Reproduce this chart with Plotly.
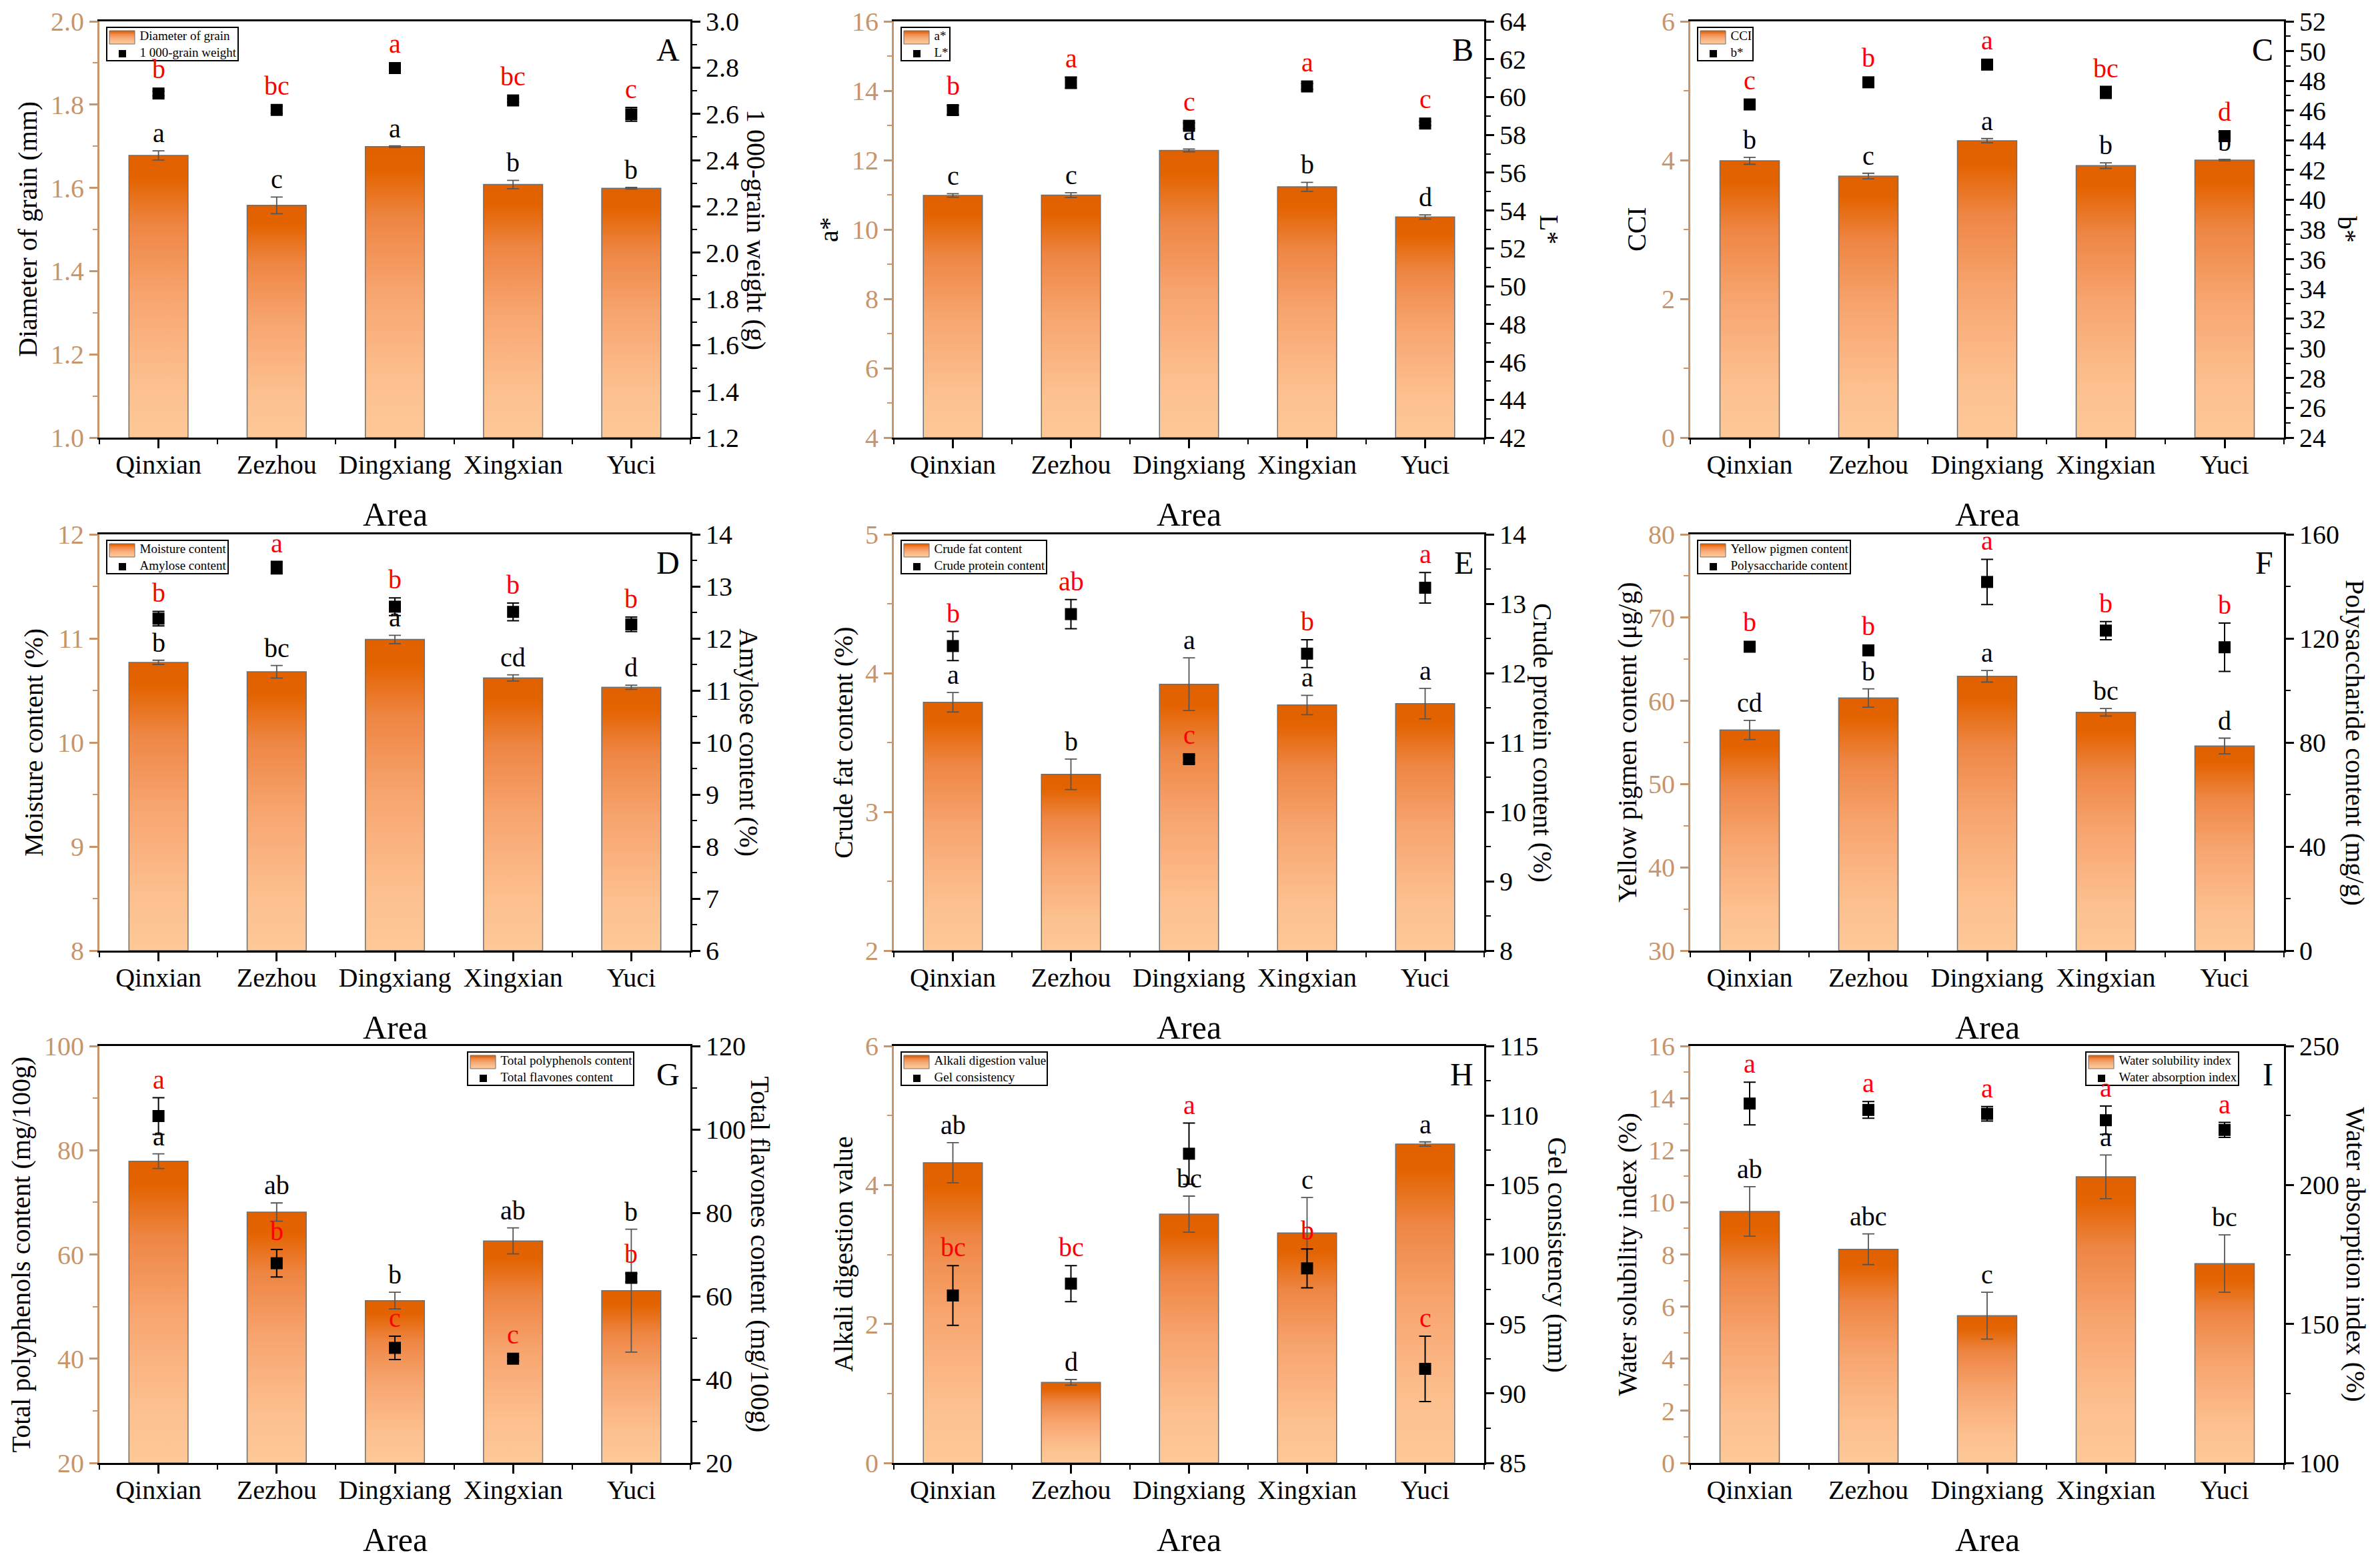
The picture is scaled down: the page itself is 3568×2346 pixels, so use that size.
import plotly.graph_objects as go

AREAS = ['Qinxian', 'Zezhou', 'Dingxiang', 'Xingxian', 'Yuci']

# A  diameter of grain / 1000-grain weight
grain_diameter = [1.678, 1.558, 1.699, 1.608, 1.599]
grain_diameter_sd = [0.011, 0.02, 0.002, 0.01, 0.002]
grain_diameter_sig = ['a', 'c', 'a', 'b', 'b']
grain_weight = [2.688, 2.617, 2.798, 2.658, 2.598]
grain_weight_sd = [0.01, 0.015, 0.008, 0.008, 0.03]
grain_weight_sig = ['b', 'bc', 'a', 'bc', 'c']

# B  a* / L*
a_star = [10.98, 10.99, 12.28, 11.23, 10.36]
a_star_sd = [0.05, 0.07, 0.04, 0.13, 0.06]
a_star_sig = ['c', 'c', 'a', 'b', 'd']
l_star = [59.31, 60.76, 58.48, 60.56, 58.6]
l_star_sd = [0.25, 0.3, 0.15, 0.15, 0.1]
l_star_sig = ['b', 'a', 'c', 'a', 'c']

# C  CCI / b*
cci = [3.99, 3.77, 4.28, 3.92, 4.0]
cci_sd = [0.05, 0.04, 0.03, 0.04, 0.01]
cci_sig = ['b', 'c', 'a', 'b', 'b']
b_star = [46.41, 47.9, 49.09, 47.22, 44.28]
b_star_sd = [0.1, 0.3, 0.1, 0.4, 0.2]
b_star_sig = ['c', 'b', 'a', 'bc', 'd']

# D  moisture / amylose
moisture = [10.77, 10.68, 10.99, 10.62, 10.53]
moisture_sd = [0.02, 0.06, 0.04, 0.03, 0.02]
moisture_sig = ['b', 'bc', 'a', 'cd', 'd']
amylose = [12.38, 13.36, 12.61, 12.51, 12.27]
amylose_sd = [0.14, 0.12, 0.17, 0.17, 0.14]
amylose_sig = ['b', 'a', 'b', 'b', 'b']

# E  crude fat / crude protein
crude_fat = [3.79, 3.27, 3.92, 3.77, 3.78]
crude_fat_sd = [0.07, 0.11, 0.19, 0.07, 0.11]
crude_fat_sig = ['a', 'b', 'a', 'a', 'a']
crude_protein = [12.39, 12.85, 10.76, 12.28, 13.23]
crude_protein_sd = [0.21, 0.21, 0.055, 0.2, 0.22]
crude_protein_sig = ['b', 'ab', 'c', 'b', 'a']

# F  yellow pigment / polysaccharide
yellow_pigment = [56.5, 60.34, 62.95, 58.62, 54.57]
yellow_pigment_sd = [1.15, 1.1, 0.7, 0.45, 0.95]
yellow_pigment_sig = ['cd', 'b', 'a', 'bc', 'd']
polysaccharide = [116.8, 115.4, 141.7, 123.0, 116.6]
polysaccharide_sd = [1.0, 1.0, 8.7, 3.5, 9.3]
polysaccharide_sig = ['b', 'b', 'a', 'b', 'b']

# G  total polyphenols / total flavones
polyphenols = [77.9, 68.14, 51.15, 62.6, 53.06]
polyphenols_sd = [1.4, 1.75, 1.6, 2.5, 11.8]
polyphenols_sig = ['a', 'ab', 'b', 'ab', 'b']
flavones = [103.2, 67.9, 47.6, 45.0, 64.4]
flavones_sd = [4.4, 3.3, 2.8, 0.5, 1.0]
flavones_sig = ['a', 'b', 'c', 'c', 'b']

# H  alkali digestion / gel consistency
alkali = [4.32, 1.16, 3.58, 3.31, 4.59]
alkali_sd = [0.29, 0.04, 0.26, 0.51, 0.03]
alkali_sig = ['ab', 'd', 'bc', 'c', 'a']
gel = [97.05, 97.9, 107.25, 99.0, 91.77]
gel_sd = [2.15, 1.3, 2.2, 1.4, 2.35]
gel_sig = ['bc', 'bc', 'a', 'b', 'c']

# I  water solubility / water absorption
solubility = [9.65, 8.2, 5.65, 10.98, 7.65]
solubility_sd = [0.95, 0.59, 0.9, 0.84, 1.1]
solubility_sig = ['ab', 'abc', 'c', 'a', 'bc']
absorption = [229.3, 227.0, 225.6, 223.3, 219.8]
absorption_sd = [7.7, 3.0, 2.6, 5.1, 2.7]
absorption_sig = ['a', 'a', 'a', 'a', 'a']

PANELS = [
    dict(letter='A', bar=grain_diameter, bar_sd=grain_diameter_sd, bar_sig=grain_diameter_sig,
         pt=grain_weight, pt_sd=grain_weight_sd, pt_sig=grain_weight_sig,
         bar_name='Diameter of grain', pt_name='1 000-grain weight',
         ltitle='Diameter of grain (mm)', rtitle='1 000-grain weight (g)',
         lrange=[1.0, 2.0], ldt=0.2, lminor=0.1, rrange=[1.2, 3.0], rdt=0.2, rminor=0.1,
         lfmt='.1f', rfmt='.1f', loff=107, roff=98, leg_dx=10),
    dict(letter='B', bar=a_star, bar_sd=a_star_sd, bar_sig=a_star_sig,
         pt=l_star, pt_sd=l_star_sd, pt_sig=l_star_sig,
         bar_name='a*', pt_name='L*', ltitle='a*', rtitle='L*',
         lrange=[4, 16], ldt=2, lminor=1, rrange=[42, 64], rdt=2, rminor=1,
         lfmt='d', rfmt='d', loff=97, roff=97, leg_dx=10),
    dict(letter='C', bar=cci, bar_sd=cci_sd, bar_sig=cci_sig,
         pt=b_star, pt_sd=b_star_sd, pt_sig=b_star_sig,
         bar_name='CCI', pt_name='b*', ltitle='CCI', rtitle='b*',
         lrange=[0, 6], ldt=2, lminor=1, rrange=[24, 52], rdt=2, rminor=1,
         lfmt='d', rfmt='d', loff=80, roff=94, leg_dx=10),
    dict(letter='D', bar=moisture, bar_sd=moisture_sd, bar_sig=moisture_sig,
         pt=amylose, pt_sd=amylose_sd, pt_sig=amylose_sig,
         bar_name='Moisture content', pt_name='Amylose content',
         ltitle='Moisture content (%)', rtitle='Amylose content (%)',
         lrange=[8, 12], ldt=1, lminor=0.5, rrange=[6, 14], rdt=1, rminor=0.5,
         lfmt='d', rfmt='d', loff=99, roff=88, leg_dx=10),
    dict(letter='E', bar=crude_fat, bar_sd=crude_fat_sd, bar_sig=crude_fat_sig,
         pt=crude_protein, pt_sd=crude_protein_sd, pt_sig=crude_protein_sig,
         bar_name='Crude fat content', pt_name='Crude protein content',
         ltitle='Crude fat content (%)', rtitle='Crude protein content (%)',
         lrange=[2, 5], ldt=1, lminor=0.5, rrange=[8, 14], rdt=1, rminor=0.5,
         lfmt='d', rfmt='d', loff=76, roff=88, leg_dx=10),
    dict(letter='F', bar=yellow_pigment, bar_sd=yellow_pigment_sd, bar_sig=yellow_pigment_sig,
         pt=polysaccharide, pt_sd=polysaccharide_sd, pt_sig=polysaccharide_sig,
         bar_name='Yellow pigmen content', pt_name='Polysaccharide content',
         ltitle='Yellow pigmen content (μg/g)', rtitle='Polysaccharide content (mg/g)',
         lrange=[30, 80], ldt=10, lminor=5, rrange=[0, 160], rdt=40, rminor=20,
         lfmt='d', rfmt='d', loff=95, roff=107, leg_dx=10),
    dict(letter='G', bar=polyphenols, bar_sd=polyphenols_sd, bar_sig=polyphenols_sig,
         pt=flavones, pt_sd=flavones_sd, pt_sig=flavones_sig,
         bar_name='Total polyphenols content', pt_name='Total flavones content',
         ltitle='Total polyphenols content (mg/100g)', rtitle='Total flavones content (mg/100g)',
         lrange=[20, 100], ldt=20, lminor=10, rrange=[20, 120], rdt=20, rminor=10,
         lfmt='d', rfmt='d', loff=118, roff=104, leg_dx=551),
    dict(letter='H', bar=alkali, bar_sd=alkali_sd, bar_sig=alkali_sig,
         pt=gel, pt_sd=gel_sd, pt_sig=gel_sig,
         bar_name='Alkali digestion value', pt_name='Gel consistency',
         ltitle='Alkali digestion value', rtitle='Gel consistency (mm)',
         lrange=[0, 6], ldt=2, lminor=1, rrange=[85, 115], rdt=5, rminor=2.5,
         lfmt='d', rfmt='d', loff=76, roff=109, leg_dx=10),
    dict(letter='I', bar=solubility, bar_sd=solubility_sd, bar_sig=solubility_sig,
         pt=absorption, pt_sd=absorption_sd, pt_sig=absorption_sig,
         bar_name='Water solubility index', pt_name='Water absorption index',
         ltitle='Water solubility index (%)', rtitle='Water absorption index (%)',
         lrange=[0, 16], ldt=2, lminor=1, rrange=[100, 250], rdt=50, rminor=25,
         lfmt='d', rfmt='d', loff=95, roff=107, leg_dx=592),
]

W, H = 3568, 2346
PAGE = 8  # default body margin of the html page
COL_X = [(149, 1035), (1340, 2225), (2534, 3424)]
ROW_Y = [(32, 656), (801, 1425), (1568, 2193)]

TAN = '#c8946a'
FONT = 'Liberation Serif, Times New Roman, serif'
BAR_SCALE = [[0.0, '#fdc897'], [0.18, '#fdc190'], [0.5, '#f7a56f'],
             [0.75, '#ee8644'], [0.92, '#e36300'], [1.0, '#e16100']]
HALF_W = 0.25
MARKER = 18


def name(prefix, n):
    return prefix if n == 1 else f'{prefix}{n}'


def px(x):
    return x / W


def py(y):
    return 1 - y / H


def scale_color(t):
    # colour of BAR_SCALE at position t (for the legend swatch)
    for (t0, c0), (t1, c1) in zip(BAR_SCALE[:-1], BAR_SCALE[1:]):
        if t0 <= t <= t1:
            f = (t - t0) / (t1 - t0) if t1 > t0 else 0
            a = [int(c0[i:i + 2], 16) for i in (1, 3, 5)]
            b = [int(c1[i:i + 2], 16) for i in (1, 3, 5)]
            return 'rgb({},{},{})'.format(*[round(u + (v - u) * f) for u, v in zip(a, b)])
    return BAR_SCALE[-1][1]


fig = go.Figure()
layout = {}
annotations = []
shapes = []

for k, p in enumerate(PANELS):
    row, col = divmod(k, 3)
    x0, x1 = COL_X[col]
    ytop, ybot = ROW_Y[row]
    x0, x1, ytop, ybot = x0 - PAGE, x1 - PAGE, ytop - PAGE, ybot - PAGE
    xdom = [px(x0), px(x1)]
    ydom = [py(ybot), py(ytop)]
    xi = k + 1
    yl, yr = 2 * k + 1, 2 * k + 2
    xref, ylref, yrref = name('x', xi), name('y', yl), name('y', yr)
    base = p['lrange'][0]
    r_ppu = (ybot - ytop) / (p['rrange'][1] - p['rrange'][0])

    # gradient bars, one closed shape per area
    for i, v in enumerate(p['bar']):
        fig.add_trace(go.Scatter(
            x=[i - HALF_W, i - HALF_W, i + HALF_W, i + HALF_W, i - HALF_W],
            y=[base, v, v, base, base],
            mode='lines', fill='toself',
            fillgradient=dict(type='vertical', colorscale=BAR_SCALE),
            line=dict(color='#6e6e6e', width=1.5),
            hoverinfo='skip', xaxis=xref, yaxis=ylref,
        ))
    fig.add_trace(go.Scatter(
        x=list(range(5)), y=p['bar'], mode='markers',
        marker=dict(size=1, color='rgba(0,0,0,0)'),
        error_y=dict(type='data', array=p['bar_sd'], color='#555555', thickness=1.8, width=9),
        name=p['bar_name'], xaxis=xref, yaxis=ylref,
    ))
    fig.add_trace(go.Scatter(
        x=list(range(5)), y=p['pt'], mode='markers',
        marker=dict(symbol='square', size=MARKER, color='black'),
        error_y=dict(type='data', array=p['pt_sd'], color='black', thickness=2, width=9),
        name=p['pt_name'], xaxis=xref, yaxis=yrref,
    ))

    layout[name('xaxis', xi)] = dict(
        domain=xdom, anchor=ylref, range=[-0.5, 4.5], automargin=False,
        tickmode='array', tickvals=list(range(5)), ticktext=AREAS,
        ticks='outside', ticklen=13, tickwidth=3, tickcolor='black',
        ticklabelstandoff=-10,
        showline=True, linecolor='black', linewidth=3, mirror=True,
        tickfont=dict(family=FONT, size=40, color='black'),
        minor=dict(tickmode='array', tickvals=[j - 0.5 for j in range(6)],
                   ticks='outside', ticklen=7, tickwidth=2, tickcolor='black'),
        showgrid=False, zeroline=False,
    )
    layout[name('yaxis', yl)] = dict(
        domain=ydom, anchor=xref, range=p['lrange'], automargin=False,
        tick0=p['lrange'][0], dtick=p['ldt'], tickformat=p['lfmt'],
        ticks='outside', ticklen=12, tickwidth=3, tickcolor=TAN,
        showline=True, linecolor=TAN, linewidth=3,
        tickfont=dict(family=FONT, size=40, color=TAN),
        minor=dict(dtick=p['lminor'], tick0=p['lrange'][0], ticks='outside',
                   ticklen=7, tickwidth=2, tickcolor=TAN),
        showgrid=False, zeroline=False,
    )
    layout[name('yaxis', yr)] = dict(
        domain=ydom, anchor=xref, overlaying=ylref, side='right', range=p['rrange'],
        automargin=False,
        tick0=p['rrange'][0], dtick=p['rdt'], tickformat=p['rfmt'],
        ticks='outside', ticklen=12, tickwidth=3, tickcolor='black',
        showline=True, linecolor='black', linewidth=3,
        tickfont=dict(family=FONT, size=40, color='black'),
        minor=dict(dtick=p['rminor'], tick0=p['rrange'][0], ticks='outside',
                   ticklen=7, tickwidth=2, tickcolor='black'),
        showgrid=False, zeroline=False,
    )

    # legend box drawn by hand: bordered text plus swatch and marker
    bx, by = x0 + p['leg_dx'], ytop + 8
    pad = '&nbsp;' * 10
    annotations.append(dict(
        text=f"{pad}{p['bar_name']}<br>{pad}{p['pt_name']}",
        x=px(bx), y=py(by), xref='paper', yref='paper', xanchor='left', yanchor='top',
        align='left', showarrow=False, bordercolor='black', borderwidth=2, borderpad=1,
        font=dict(family=FONT, size=19, color='black'),
    ))
    n_band = 10
    for j in range(n_band):
        t = 1 - (j + 0.5) / n_band
        shapes.append(dict(
            type='rect', xref='paper', yref='paper', layer='above',
            x0=px(bx + 5), x1=px(bx + 43),
            y0=py(by + 6 + 20 * j / n_band), y1=py(by + 6 + 20 * (j + 1) / n_band),
            fillcolor=scale_color(t), line=dict(width=0),
        ))
    shapes.append(dict(
        type='rect', xref='paper', yref='paper', layer='above',
        x0=px(bx + 5), x1=px(bx + 43), y0=py(by + 6), y1=py(by + 26),
        line=dict(color='#6e6e6e', width=1),
    ))
    shapes.append(dict(
        type='rect', xref='paper', yref='paper', layer='above',
        x0=px(bx + 19), x1=px(bx + 30), y0=py(by + 35), y1=py(by + 46),
        fillcolor='black', line=dict(width=0),
    ))

    xd, yd = f'{xref} domain', f'{ylref} domain'
    annotations += [
        dict(text=p['letter'], x=1, y=1, xref=xd, yref=yd, xanchor='right', yanchor='top',
             xshift=-14, yshift=-14, showarrow=False,
             font=dict(family=FONT, size=48, color='black')),
        dict(text='Area', x=0.5, y=0, xref=xd, yref=yd, xanchor='center', yanchor='middle',
             yshift=-115, showarrow=False, font=dict(family=FONT, size=50, color='black')),
        dict(text=p['ltitle'], x=0, y=0.5, xref=xd, yref=yd, xanchor='center', yanchor='middle',
             xshift=-p['loff'], textangle=-90, showarrow=False,
             font=dict(family=FONT, size=40, color='black')),
        dict(text=p['rtitle'], x=1, y=0.5, xref=xd, yref=yd, xanchor='center', yanchor='middle',
             xshift=p['roff'], textangle=90, showarrow=False,
             font=dict(family=FONT, size=40, color='black')),
    ]
    for i in range(5):
        annotations.append(dict(
            text=p['bar_sig'][i], x=i, y=p['bar'][i] + p['bar_sd'][i], xref=xref, yref=ylref,
            xanchor='center', yanchor='bottom', yshift=2, showarrow=False,
            font=dict(family=FONT, size=40, color='black')))
        lift = max(0.0, MARKER / 2 - p['pt_sd'][i] * r_ppu)
        annotations.append(dict(
            text=p['pt_sig'][i], x=i, y=p['pt'][i] + p['pt_sd'][i], xref=xref, yref=yrref,
            xanchor='center', yanchor='bottom', yshift=lift + 3, showarrow=False,
            font=dict(family=FONT, size=40, color='red')))

fig.update_layout(
    width=W, height=H, showlegend=False,
    margin=dict(l=0, r=0, t=0, b=0, autoexpand=False),
    paper_bgcolor='white', plot_bgcolor='white',
    font=dict(family=FONT, color='black'),
    annotations=annotations, shapes=shapes,
    **layout,
)

fig.write_html('out.html')
